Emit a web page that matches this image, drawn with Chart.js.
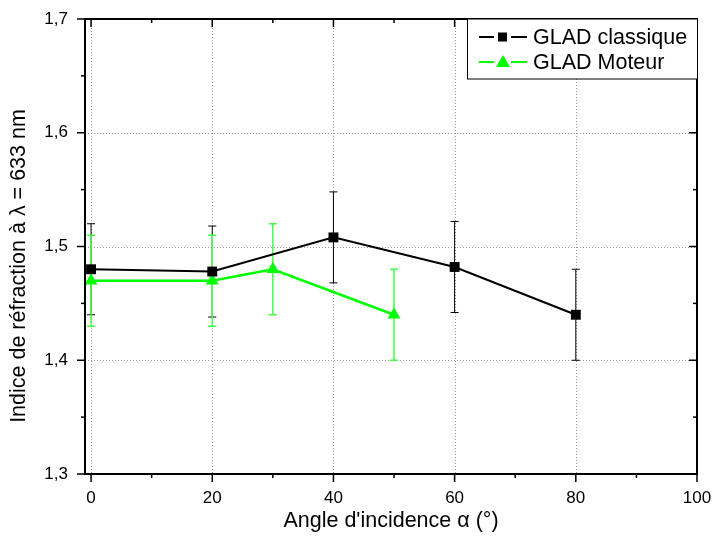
<!DOCTYPE html>
<html>
<head>
<meta charset="utf-8">
<script src="https://cdn.jsdelivr.net/npm/chart.js@4"></script>
<style>
  html, body { margin: 0; padding: 0; background: #fff; }
  #wrap { width: 713px; height: 542px; }
</style>
</head>
<body>
<div id="wrap"><canvas id="c" width="713" height="542"></canvas></div>
<script>
// data
const anglesClassique = [0, 20, 40, 60, 80]
const indexClassique = [1.48, 1.478, 1.508, 1.482, 1.44]
const errClassique = [0.04, 0.04, 0.04, 0.04, 0.04]

const anglesMoteur = [0, 20, 30, 50]
const indexMoteur = [1.47, 1.47, 1.48, 1.44]
const errMoteur = [0.04, 0.04, 0.04, 0.04]

const xTicks = [0, 20, 40, 60, 80, 100]
const xMinor = [10, 30, 50, 70, 90]
const yTicks = [1.3, 1.4, 1.5, 1.6, 1.7]
const yMinor = [1.35, 1.45, 1.55, 1.65]

const xTitle = "Angle d'incidence \u03b1 (\u00b0)"
const yTitle = 'Indice de r\u00e9fraction \u00e0 \u03bb = 633 nm'

const FONT = "'Liberation Sans', Arial, sans-serif"

const toPoints = (xs, ys) => xs.map((x, i) => ({ x: x, y: ys[i] }))

// dotted grid + error bars behind the series, frame, y title and legend on top
const decor = {
  id: 'decor',
  beforeDatasetsDraw(chart) {
    const { ctx, chartArea: a, scales: { x, y } } = chart
    ctx.save()
    ctx.strokeStyle = '#9a9a9a'
    ctx.lineWidth = 1
    ctx.setLineDash([1, 2])
    xTicks.slice(0, -1).forEach(v => {
      const px = Math.round(x.getPixelForValue(v)) + 0.5
      ctx.beginPath(); ctx.moveTo(px, a.top); ctx.lineTo(px, a.bottom); ctx.stroke()
    })
    yTicks.slice(1, -1).forEach(v => {
      const py = Math.round(y.getPixelForValue(v)) + 0.5
      ctx.beginPath(); ctx.moveTo(a.left, py); ctx.lineTo(a.right, py); ctx.stroke()
    })
    ctx.setLineDash([])

    // error bars
    const bars = [
      [anglesClassique, indexClassique, errClassique, '#000000', 1],
      [anglesMoteur, indexMoteur, errMoteur, '#44ff44', 1.5]
    ]
    bars.forEach(([xs, ys, es, col, w]) => {
      ctx.strokeStyle = col
      ctx.lineWidth = w
      xs.forEach((xv, i) => {
        const px = x.getPixelForValue(xv)
        const top = y.getPixelForValue(ys[i] + es[i])
        const bot = y.getPixelForValue(ys[i] - es[i])
        ctx.beginPath()
        ctx.moveTo(px, top); ctx.lineTo(px, bot)
        ctx.moveTo(px - 4, top); ctx.lineTo(px + 4, top)
        ctx.moveTo(px - 4, bot); ctx.lineTo(px + 4, bot)
        ctx.stroke()
      })
    })
    ctx.restore()
  },
  afterDatasetsDraw(chart) {
    const { ctx, chartArea: a, scales: { x, y } } = chart
    ctx.save()
    ctx.strokeStyle = '#000'
    ctx.lineWidth = 2
    ctx.strokeRect(a.left, a.top, a.right - a.left, a.bottom - a.top)

    ctx.lineWidth = 1.5
    const tick = (x1, y1, x2, y2) => { ctx.beginPath(); ctx.moveTo(x1, y1); ctx.lineTo(x2, y2); ctx.stroke() }
    xTicks.forEach(v => {
      const px = x.getPixelForValue(v)
      tick(px, a.bottom, px, a.bottom + 8)
      tick(px, a.top, px, a.top + 8)
    })
    xMinor.forEach(v => {
      const px = x.getPixelForValue(v)
      tick(px, a.bottom, px, a.bottom + 4)
      tick(px, a.top, px, a.top + 4)
    })
    yTicks.forEach(v => {
      const py = y.getPixelForValue(v)
      tick(a.left - 8, py, a.left, py)
      tick(a.right - 8, py, a.right, py)
    })
    yMinor.forEach(v => {
      const py = y.getPixelForValue(v)
      tick(a.left - 4, py, a.left, py)
      tick(a.right - 4, py, a.right, py)
    })

    // y title sits a bit below the plot centre in the original
    ctx.fillStyle = '#000'
    ctx.font = '21.5px ' + FONT
    ctx.textAlign = 'center'
    ctx.textBaseline = 'middle'
    ctx.translate(19, 266)
    ctx.rotate(-Math.PI / 2)
    ctx.fillText(yTitle, 0, 0)
    ctx.setTransform(1, 0, 0, 1, 0, 0)

    // legend box
    const lx = 467, ly = a.top, lw = a.right - 467, lh = 60
    ctx.lineWidth = 1
    ctx.fillStyle = '#fff'
    ctx.fillRect(lx, ly, lw, lh)
    ctx.strokeRect(lx + 0.5, ly, lw, lh)
    const rows = [37, 62]
    chart.data.datasets.forEach((ds, i) => {
      const ry = rows[i]
      ctx.strokeStyle = ds.borderColor
      ctx.lineWidth = 2
      tick(479, ry, 494, ry)
      tick(511, ry, 527, ry)
      ctx.fillStyle = ds.borderColor
      if (ds.pointStyle === 'rect') {
        ctx.fillRect(498, ry - 4.5, 9, 9)
      } else {
        ctx.beginPath()
        ctx.moveTo(503, ry - 7); ctx.lineTo(510, ry + 5); ctx.lineTo(496, ry + 5)
        ctx.closePath(); ctx.fill()
      }
      ctx.fillStyle = '#000'
      ctx.font = '21.5px ' + FONT
      ctx.textBaseline = 'middle'
      ctx.textAlign = 'left'
      ctx.fillText(ds.label, 533, ry + 1)
    })
    ctx.restore()
  }
}

new Chart(document.getElementById('c'), {
  type: 'line',
  data: {
    datasets: [
      {
        label: 'GLAD classique',
        data: toPoints(anglesClassique, indexClassique),
        borderColor: '#000000',
        backgroundColor: '#000000',
        borderWidth: 2,
        pointStyle: 'rect',
        pointRadius: 7,
        pointBorderWidth: 0,
        tension: 0
      },
      {
        label: 'GLAD Moteur',
        data: toPoints(anglesMoteur, indexMoteur),
        borderColor: '#00ff00',
        backgroundColor: '#00ff00',
        borderWidth: 2.5,
        pointStyle: 'triangle',
        pointRadius: 7.5,
        pointBorderWidth: 0,
        tension: 0
      }
    ]
  },
  options: {
    responsive: false,
    animation: false,
    clip: false,
    layout: { padding: { top: 19, right: 16, left: 0, bottom: 0 } },
    plugins: { legend: { display: false }, tooltip: { enabled: false } },
    scales: {
      x: {
        type: 'linear',
        min: -1,
        max: 100,
        grid: { display: false, drawTicks: true, tickLength: 14 },
        border: { display: false },
        afterBuildTicks: s => { s.ticks = xTicks.map(v => ({ value: v })) },
        afterFit: s => { s.height = 68 },
        ticks: { color: '#000', padding: 0, maxRotation: 0, font: { family: FONT, size: 17 } },
        title: {
          display: true,
          text: xTitle,
          color: '#000',
          padding: { top: 0, bottom: 8.5 },
          font: { family: FONT, size: 21.5 }
        }
      },
      y: {
        type: 'linear',
        min: 1.3,
        max: 1.7,
        grid: { display: false, drawTicks: true, tickLength: 17 },
        border: { display: false },
        afterBuildTicks: s => { s.ticks = yTicks.map(v => ({ value: v })) },
        afterFit: s => { s.width = 85 },
        ticks: {
          color: '#000',
          padding: 0,
          font: { family: FONT, size: 17 },
          callback: v => v.toFixed(1).replace('.', ',')
        }
      }
    }
  },
  plugins: [decor]
})
</script>
</body>
</html>
